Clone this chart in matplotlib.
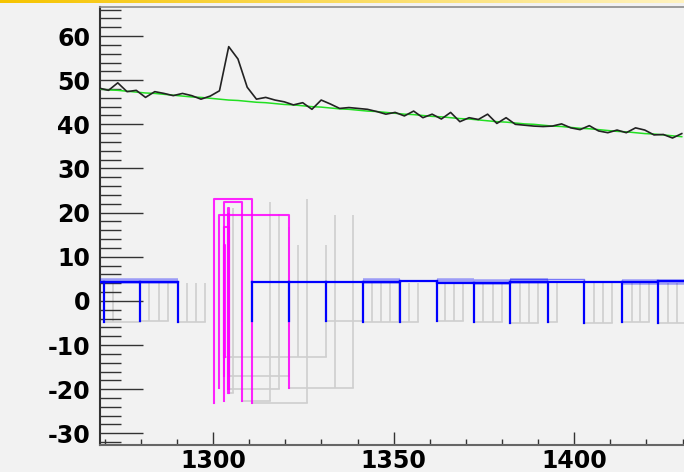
import numpy as np
import matplotlib
matplotlib.use("Agg")
from matplotlib import pyplot as plt
from matplotlib.ticker import MultipleLocator
from matplotlib.colors import LinearSegmentedColormap

# pulse height per bin (black) and fitted baseline (green)
BIN_LO = 1268.5
BIN_W = 2.56
signal = [48.2, 47.7, 49.4, 47.4, 47.7, 46.1, 47.4, 47.0, 46.5, 47.0,
          46.5, 45.7, 46.4, 47.6, 57.6, 54.8, 48.4, 45.7, 46.1, 45.5,
          45.1, 44.4, 44.9, 43.4, 45.5, 44.6, 43.6, 43.8, 43.6, 43.4,
          42.9, 42.3, 42.7, 41.9, 43.0, 41.5, 42.3, 41.2, 42.7, 40.6,
          41.5, 41.1, 42.3, 40.2, 41.5, 40.0, 39.8, 39.6, 39.5, 39.6,
          40.1, 39.2, 38.8, 39.7, 38.5, 38.1, 38.7, 38.1, 39.2, 38.7,
          37.6, 37.7, 36.9, 37.9]
baseline = [48.0, 47.8, 47.7, 47.5, 47.3, 47.1, 47.0, 46.8, 46.6, 46.4,
            46.2, 46.1, 45.9, 45.7, 45.5, 45.4, 45.2, 45.0, 44.9, 44.7,
            44.5, 44.4, 44.2, 44.0, 43.9, 43.7, 43.5, 43.4, 43.2, 43.0,
            42.9, 42.7, 42.5, 42.3, 42.2, 42.0, 41.8, 41.7, 41.5, 41.3,
            41.2, 41.0, 40.8, 40.6, 40.5, 40.3, 40.1, 40.0, 39.8, 39.6,
            39.5, 39.3, 39.1, 39.0, 38.8, 38.6, 38.4, 38.3, 38.1, 37.9,
            37.8, 37.6, 37.4, 37.2]

# blue level: edge positions, top level from each edge to the next, bottom of each edge
blue_edge = [1268.0, 1269.8, 1279.9, 1290.4, 1310.9, 1320.9, 1331.3, 1341.4, 1351.7,
             1361.9, 1372.3, 1382.3, 1392.8, 1402.8, 1413.3, 1423.3, 1434.0]
blue_top = [4.2, 4.2, 4.2, np.nan, 4.2, 4.2, 4.2, 4.2, 4.6,
            4.0, 4.0, 4.2, 4.2, 4.2, 4.35, 4.6]
blue_halo = [4.4, 4.4, 4.4, np.nan, np.nan, np.nan, np.nan, 4.45, np.nan,
             4.4, 4.3, 4.5, np.nan, np.nan, 4.35, 4.2]
blue_low = [-4.8, -4.85, -4.55, -4.7, -4.5, -4.5, -4.5, -4.7, -4.85,
            -4.55, -4.85, -5.1, -4.7, -4.9, -4.7, -4.9, -4.7]
blue_box = (1382.3, 1402.8, 4.9)

# gray returns following each blue edge
comb_top = 4.0
comb_rise = [[], [1272.4, 1279.9], [1282.4, 1285.0, 1287.5], [1292.8, 1295.4, 1297.9],
             [], [], [1341.4], [1343.9, 1346.4, 1349.0, 1351.5], [1354.3, 1356.8],
             [1364.3, 1366.8, 1369.3], [1374.8, 1377.4, 1379.9], [1385.0, 1387.5, 1389.9],
             [1395.1], [1405.5, 1408.0, 1410.4], [1415.9, 1418.2, 1420.7],
             [1426.0, 1428.4, 1431.0], []]

# magenta pulses and their gray returns
mag_rise = [1300.4, 1302.9, 1301.7, 1303.1, 1304.2, 1302.9, 1304.2]
mag_fall = [1310.9, 1308.0, 1320.9, 1303.4, 1304.5, 1304.5, 1304.5]
mag_high = [23.0, 22.3, 19.4, 12.7, 21.0, 16.8, 19.6]
mag_low = [-23.2, -22.6, -19.7, -12.8, -20.9, -17.0, -20.0]
mag_tail = [[1325.9], [1315.9], [1333.9, 1338.8], [1323.4, 1331.3],
            [1305.5], [1320.9], [1318.4]]

BG = "#f2f2f2"
GRAY = "#cfcfcf"
BLUE = "#0000ff"
MAGENTA = "#ff00ff"

plt.rcParams["font.family"] = "DejaVu Sans"
plt.rcParams["font.weight"] = "bold"
plt.rcParams["axes.unicode_minus"] = False

fig = plt.figure(figsize=(6.84, 4.72), dpi=100, facecolor=BG)

# yellow window strip along the top
strip = fig.add_axes([0, 1 - 3 / 472, 1, 3 / 472])
strip.imshow(np.linspace(0, 1, 256)[None, :], aspect="auto",
             cmap=LinearSegmentedColormap.from_list("strip", ["#f6c400", "#fff3c0"]))
strip.axis("off")

ax = fig.add_axes([100 / 684, 27 / 472, 584 / 684, 438 / 472], facecolor=BG)

# gray combs under the blue level
for edge, low, rises in zip(blue_edge, blue_low, comb_rise):
    if rises:
        ax.plot([edge, rises[-1]], [low, low], color=GRAY, lw=1.2, zorder=1)
        ax.vlines(rises, low, comb_top, color=GRAY, lw=1.2, zorder=1)

# magenta pulses
for r, f, hi, lo, tail in zip(mag_rise, mag_fall, mag_high, mag_low, mag_tail):
    ax.plot([f, tail[-1]], [lo, lo], color=GRAY, lw=1.2, zorder=1)
    ax.vlines(tail, lo, hi, color=GRAY, lw=1.2, zorder=1)
    ax.plot([r, r, f, f], [lo, hi, hi, lo], color=MAGENTA, lw=1.5, alpha=0.85, zorder=2)

# blue level
for i in range(len(blue_edge) - 1):
    if np.isfinite(blue_halo[i]):
        ax.plot([blue_edge[i], blue_edge[i + 1]], [blue_halo[i]] * 2,
                color=BLUE, lw=4, alpha=0.35, solid_capstyle="butt", zorder=3)
    if np.isfinite(blue_top[i]):
        ax.plot([blue_edge[i], blue_edge[i + 1]], [blue_top[i]] * 2,
                color=BLUE, lw=1.6, zorder=3)
for i, (edge, low) in enumerate(zip(blue_edge, blue_low)):
    near = [blue_top[j] for j in (i - 1, i) if 0 <= j < len(blue_top)]
    ax.plot([edge, edge], [low, np.nanmax(near)], color=BLUE, lw=1.6, zorder=3)
x0, x1, lvl = blue_box
ax.plot([x0, x0, x1, x1], [blue_top[11], lvl, lvl, blue_top[11]],
        color=BLUE, lw=1.0, alpha=0.5, zorder=3)

x = BIN_LO + BIN_W * np.arange(len(signal))
ax.plot(x, baseline, color="#22e022", lw=1.1, zorder=4)
ax.plot(x, signal, color="#222222", lw=1.2, zorder=5)

ax.set_xlim(1268.7, 1430.4)
ax.set_ylim(-32.65, 66.58)

ax.xaxis.set_major_locator(MultipleLocator(50))
ax.xaxis.set_minor_locator(MultipleLocator(10))
ax.yaxis.set_major_locator(MultipleLocator(10))
ax.yaxis.set_minor_locator(MultipleLocator(2))

ax.tick_params(axis="both", which="both", direction="in", color="#333333",
               width=1.0, top=False, right=False, labelsize=17)
ax.tick_params(axis="y", which="major", length=31, pad=7)
ax.tick_params(axis="y", which="minor", length=15)
ax.tick_params(axis="x", which="major", length=9.4, pad=3)
ax.tick_params(axis="x", which="minor", length=4.3)

ax.spines["right"].set_visible(False)
ax.spines["top"].set_color("#8c8c8c")
ax.spines["top"].set_linewidth(1.2)
ax.spines["left"].set_color("#333333")
ax.spines["left"].set_linewidth(1.5)
ax.spines["bottom"].set_color("#666666")
ax.spines["bottom"].set_linewidth(1.5)

fig.savefig("out.png", dpi=100, facecolor=BG)
